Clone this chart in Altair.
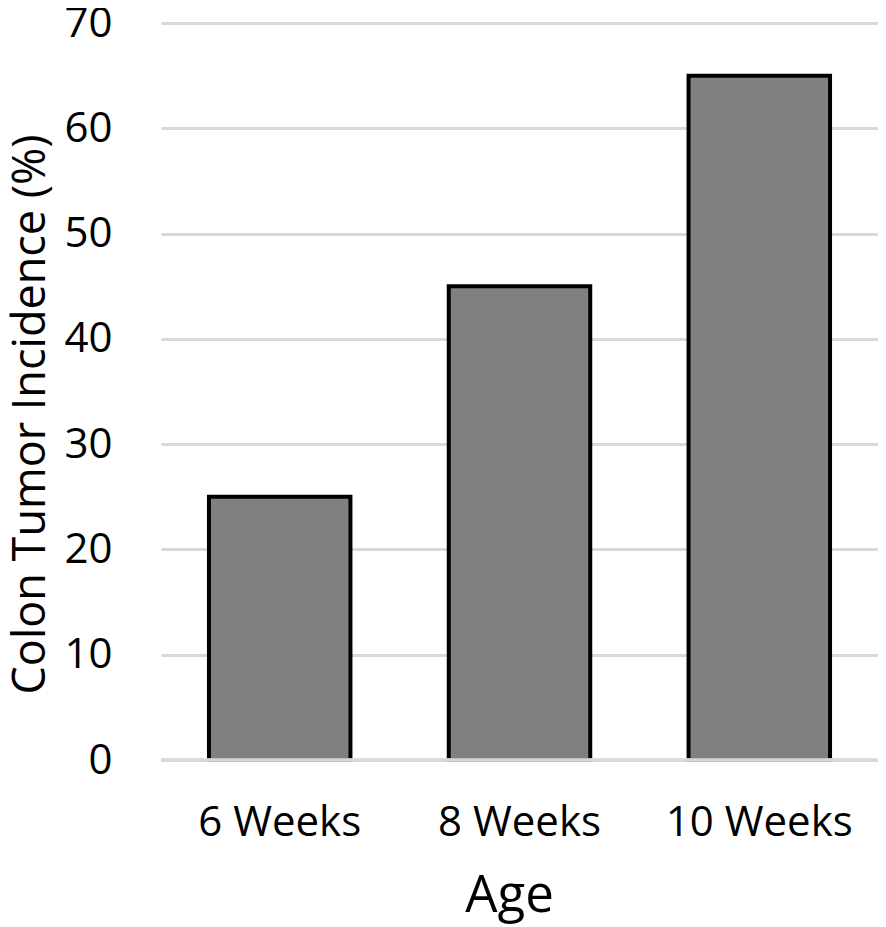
import altair as alt
import pandas as pd

ages = ["6 Weeks", "8 Weeks", "10 Weeks"]
incidence = [25, 45, 65]

df = pd.DataFrame({"Age": ages, "Incidence": incidence})

FONT = "Open Sans"

bars = alt.Chart(df).mark_bar(
    color="#808080", stroke="#000000", strokeWidth=4
).encode(
    x=alt.X(
        "Age:N",
        sort=ages,
        scale=alt.Scale(paddingInner=0.41, paddingOuter=0.2),
        axis=alt.Axis(
            title="Age",
            labelAngle=0,
            labelFontSize=42,
            labelFont=FONT,
            labelColor="#000000",
            labelPadding=42,
            labelLimit=0,
            ticks=False,
            domain=False,
            titleFont=FONT,
            titleFontSize=51,
            titleFontWeight="normal",
            titleColor="#000000",
            titleX=348,
            titleY=151,
            titleBaseline="alphabetic",
            titleAlign="center",
        ),
    ),
    y=alt.Y(
        "Incidence:Q",
        scale=alt.Scale(domain=[0, 70]),
        axis=alt.Axis(
            title="Colon Tumor Incidence (%)",
            values=[0, 10, 20, 30, 40, 50, 60, 70],
            labelFontSize=42,
            labelFont=FONT,
            labelColor="#000000",
            labelPadding=49,
            labelBaseline="middle",
            ticks=False,
            domain=False,
            grid=True,
            gridColor="#d9d9d9",
            gridWidth=3,
            titleFont=FONT,
            titleFontSize=45,
            titleFontWeight="normal",
            titleColor="#000000",
            titleX=-117,
            titleY=391,
            titleAngle=-90,
            titleBaseline="alphabetic",
            titleAlign="center",
            titleLimit=0,
        ),
    ),
)

base_line = alt.Chart(df).mark_rule(color="#d9d9d9", strokeWidth=3).encode(
    y=alt.datum(0)
)

chart = alt.layer(bars, base_line).properties(
    width=717,
    height=737,
    autosize=alt.AutoSizeParams(type="none"),
    padding={"left": 153, "top": 15, "right": 0, "bottom": 166},
    background="#ffffff",
).configure_view(stroke=None)

chart.save("out.html", embed_options={"renderer": "svg", "actions": False})
